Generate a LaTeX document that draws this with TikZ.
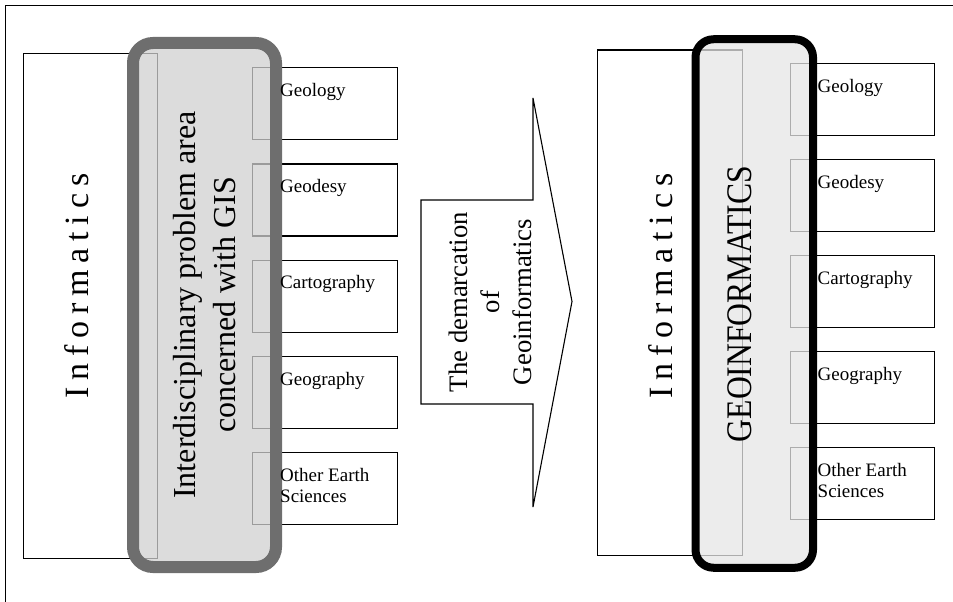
\documentclass[tikz,border=0pt]{standalone}
\usepackage{fontspec}
\setmainfont{Liberation Serif}
\usepackage{graphicx}
\usetikzlibrary{positioning}

\definecolor{gisborder}{HTML}{6E6E6E}
\definecolor{gisfill}{HTML}{D0D0D0}
\definecolor{geofill}{HTML}{E6E6E6}

\begin{document}
\begin{tikzpicture}[
    x=1pt, y=-1pt,
    infobox/.style={rectangle, draw, line width=1.1pt, inner sep=0pt, anchor=north west},
    subjbox/.style={rectangle, draw, line width=1.3pt, minimum height=72pt, inner sep=0pt, anchor=north west},
    subjtext/.style={anchor=north west, inner sep=0pt, xshift=28pt, yshift=-16pt, align=left, font=\fontsize{19}{21}\selectfont},
    spaced/.style={rotate=90, inner sep=0pt, font=\fontsize{34}{40}\selectfont\addfontfeature{LetterSpace=20}},
    gisarea/.style={rectangle, rounded corners=20pt, draw=gisborder, fill=gisfill, fill opacity=0.75, line width=12pt, inner sep=0pt},
    geoarea/.style={rectangle, rounded corners=18pt, draw=black, fill=geofill, fill opacity=0.75, line width=8pt, inner sep=0pt},
    vtext/.style={rotate=90, align=center, inner sep=0pt}
]
    \useasboundingbox (0,0) rectangle (953,602);
    % frame
    \draw[line width=1pt] (5,602) -- (5,5.3) -- (953,5.3);

    % left half
    \node[infobox, minimum width=134pt, minimum height=505pt] (linfo) at (23,52.6) {};
    \foreach \i in {0,...,4}
        \node[subjbox, minimum width=145pt] (ls\i) at (252,{67+96.25*\i}) {};

    % arrow
    \draw[line width=1.1pt] (421,200) -- (533,200) -- (533,98) -- (572,301.5)
        -- (533,507) -- (533,404) -- (421,404) -- cycle;
    \node[vtext, font=\fontsize{26.7}{32}\selectfont] (demarc) at (490,302) {The demarcation\\of\\Geoinformatics};

    % right half
    \node[infobox, minimum width=145pt, minimum height=505.5pt] (rinfo) at (597,49.5) {};
    \foreach \i in {0,...,4}
        \node[subjbox, minimum width=144.5pt] (rs\i) at (789.5,{63+96*\i}) {};

    \node[gisarea, minimum width=143pt, minimum height=524pt] (gis) at (204.5,305) {};
    \node[geoarea, minimum width=117.5pt, minimum height=528.5pt] (geo) at (754.25,303.5) {};

    \node[vtext, font=\fontsize{32}{40}\selectfont] (gistext) at (gis.center) {Interdisciplinary problem area\\concerned with GIS};
    \node[vtext, font=\fontsize{36}{40}\selectfont] (geotext) at (740,304) {\scalebox{0.88}[1]{GEOINFORMATICS}};
    \node[spaced] (linftext) at (76.5,286) {Informatics};
    \node[spaced] (rinftext) at (661,286) {Informatics};

    \foreach \txt [count=\i from 0] in {Geology, Geodesy, Cartography, Geography, {Other Earth\\Sciences}} {
        \node[subjtext] (lt\i) at (ls\i.north west) {\txt};
        \node[subjtext] (rt\i) at (rs\i.north west) {\txt};
    }
\end{tikzpicture}
\end{document}
